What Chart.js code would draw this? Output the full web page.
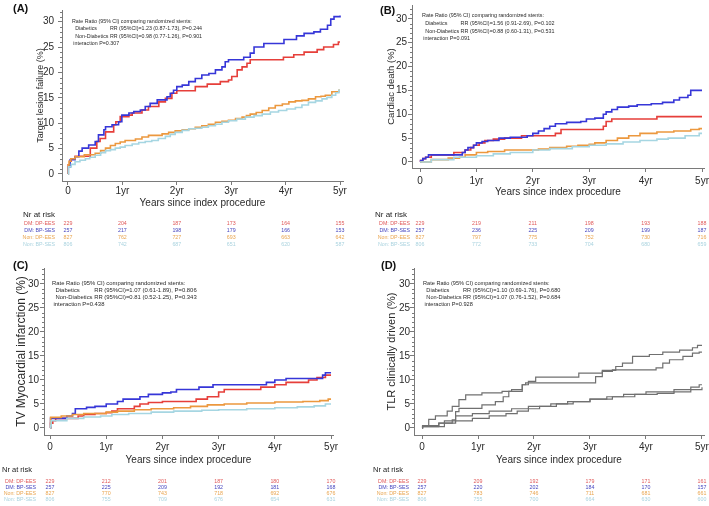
<!DOCTYPE html>
<html><head><meta charset="utf-8">
<script src="https://cdn.jsdelivr.net/npm/chart.js@4.4.1/dist/chart.umd.min.js"></script>
<style>
html,body{margin:0;padding:0;background:#fff;}
#wrap{position:relative;width:709px;height:506px;overflow:hidden;background:#fff;}
#wrap canvas{position:absolute;}
</style></head><body><div id="wrap">
<canvas id="cA" width="355" height="253" style="left:0px;top:0px"></canvas>
<canvas id="cB" width="354" height="253" style="left:355px;top:0px"></canvas>
<canvas id="cC" width="355" height="253" style="left:0px;top:253px"></canvas>
<canvas id="cD" width="354" height="253" style="left:355px;top:253px"></canvas>
</div>
<script>
// ---------- DATA ----------
const years = [0, 1, 2, 3, 4, 5];
const yearLabels = ['0', '1yr', '2yr', '3yr', '4yr', '5yr'];
const yTicks = [0, 5, 10, 15, 20, 25, 30];
const groups = ['DM: DP-EES', 'DM: BP-SES', 'Non: DP-EES', 'Non: BP-SES'];
const xTitle = 'Years since index procedure';
const riskTitle = 'Nr at risk';

// Panel A: Target lesion failure  [years, %]
const A_dmDP = [[0,0],[0.005,1.8],[0.03,2.5],[0.06,3],[0.13,3.5],[0.41,5.1],[0.53,6.4],[0.59,7],[0.69,8.3],[0.84,9.7],[0.88,10.3],[0.96,11.3],[1.12,11.6],[1.18,12],[1.36,12.6],[1.48,13.3],[1.67,14.2],[1.79,14.9],[1.91,15.9],[2.0,16.4],[2.34,17.2],[2.56,17.7],[2.8,18.2],[2.95,18.5],[3.01,19.2],[3.11,20.5],[3.2,21.1],[3.29,21.8],[3.35,22.5],[3.96,23],[4.15,23.5],[4.34,24],[4.58,24.5],[4.7,25],[4.88,25.5],[4.97,26],[5.0,26]];
const A_dmBP = [[0,0],[0.005,1.4],[0.04,2.8],[0.13,3.4],[0.2,4.5],[0.26,5.1],[0.38,5.7],[0.5,6.4],[0.56,7.7],[0.66,8.7],[0.69,9.3],[0.81,9.7],[0.93,10.3],[0.99,11.6],[1.12,12],[1.21,12.3],[1.33,12.6],[1.42,13.3],[1.51,13.9],[1.64,14.6],[1.82,15.2],[1.88,15.9],[1.94,16.5],[2.0,17.2],[2.1,17.5],[2.22,18.2],[2.34,18.8],[2.46,19.5],[2.59,19.8],[2.71,20.5],[2.83,21.1],[2.89,22.1],[2.95,22.5],[3.23,23],[3.35,23.8],[3.42,25],[3.6,25.7],[3.97,26.5],[4.2,27.2],[4.34,27.7],[4.52,28],[4.64,28.5],[4.77,29.3],[4.83,30.5],[4.89,31],[5.0,31.2]];
const A_nonDP = [[0,0],[0.005,1.8],[0.02,2.5],[0.05,3.0],[0.13,3.4],[0.3,3.8],[0.5,4.1],[0.6,4.6],[0.69,5.1],[0.78,5.6],[0.87,6.0],[0.96,6.3],[1.05,6.6],[1.24,6.9],[1.36,7.3],[1.48,7.6],[1.73,7.9],[1.85,8.2],[1.97,8.5],[2.1,8.7],[2.22,8.9],[2.34,9.2],[2.46,9.5],[2.58,9.8],[2.71,10.2],[2.83,10.4],[2.95,10.6],[3.08,10.9],[3.2,11.2],[3.28,11.5],[3.35,11.8],[3.46,12.1],[3.57,12.5],[3.69,13.0],[3.81,13.5],[3.94,13.8],[4.06,14.2],[4.18,14.4],[4.3,14.5],[4.42,14.8],[4.55,15.2],[4.65,15.3],[4.73,15.5],[4.85,16.2],[4.98,16.5],[5.0,16.5]];
const A_nonBP = [[0,0],[0.01,1.4],[0.06,1.9],[0.13,2.4],[0.22,2.7],[0.32,3.0],[0.4,3.3],[0.5,3.7],[0.6,4.2],[0.69,4.6],[0.78,4.8],[0.87,5.1],[0.96,5.3],[1.05,5.6],[1.18,5.9],[1.3,6.2],[1.42,6.4],[1.54,6.6],[1.66,7.0],[1.79,7.4],[1.88,7.8],[1.97,8.2],[2.1,8.6],[2.22,8.9],[2.34,9.0],[2.46,9.2],[2.58,9.5],[2.71,9.8],[2.83,10.2],[2.95,10.5],[3.1,10.8],[3.26,11.2],[3.42,11.5],[3.57,11.8],[3.72,12.2],[3.87,12.5],[4.02,12.8],[4.18,13.1],[4.3,13.6],[4.42,14.1],[4.55,14.4],[4.67,14.8],[4.76,15.1],[4.85,15.5],[4.92,16.0],[4.98,16.5],[5.0,16.5]];

// Panel B: Cardiac death
const B_dmDP = [[0,0],[0.01,0.3],[0.05,0.7],[0.1,1.0],[0.2,1.5],[0.6,2],[0.8,2.5],[0.9,3],[0.95,3.5],[1.05,4],[1.15,4.5],[1.3,4.8],[1.5,5],[1.8,5.5],[2.4,6],[2.5,6.8],[3.25,7.5],[3.3,8.5],[3.4,9],[4.2,9.5],[5.0,9.5]];
const B_dmBP = [[0,0],[0.01,0.3],[0.05,0.7],[0.1,1.0],[0.15,1.5],[0.75,2],[0.8,2.5],[0.85,3],[0.95,3.5],[1.0,4],[1.1,4.3],[1.2,4.5],[1.4,5],[1.6,5.2],[1.9,5.5],[2.0,6],[2.1,6.5],[2.2,7],[2.3,7.5],[2.4,8],[2.6,8.3],[2.85,8.5],[2.95,9],[3.1,9.2],[3.25,10],[3.3,10.5],[3.4,11],[3.5,11.5],[3.7,11.7],[3.85,12],[4.1,12.2],[4.3,12.5],[4.5,13],[4.6,13.5],[4.75,14],[4.8,15],[5.0,15]];
const B_nonDP = [[0,0],[0.2,0.5],[0.5,0.8],[0.7,1],[0.8,1.5],[1.0,2],[1.2,2.2],[1.5,2.5],[2.1,2.7],[2.3,3],[2.6,3.3],[2.8,3.5],[3.0,3.7],[3.1,4],[3.3,4.5],[3.5,5],[3.7,5.5],[3.9,6],[4.2,6.3],[4.5,6.5],[4.8,6.8],[4.95,7],[5.0,7]];
const B_nonBP = [[0,0],[0.2,0.5],[0.6,1],[1.0,1.3],[1.3,1.7],[1.6,2],[2.0,2.5],[2.3,2.8],[2.7,3.2],[3.0,3.5],[3.3,3.8],[3.6,4.2],[3.9,4.5],[4.2,4.8],[4.4,5],[4.7,5.5],[4.95,6],[5.0,6]];

// Panel C: TV Myocardial infarction
const C_dmDP = [[0,0],[0.01,1],[0.05,1.5],[0.1,2],[0.5,2.5],[0.6,2.8],[0.8,3],[1.0,3.2],[1.1,3.5],[1.2,4],[1.5,4.5],[1.6,5],[1.75,5.3],[2.0,5.5],[2.6,6],[2.8,6.5],[3.0,7.5],[3.1,8],[3.75,8.5],[4.0,9],[4.2,9.5],[4.6,10],[4.75,10.5],[4.9,11],[5.0,11]];
const C_dmBP = [[0,0],[0.01,2],[0.3,2.5],[0.4,3],[0.45,4],[0.65,4.3],[0.8,4.5],[1.0,5],[1.2,5.5],[1.3,6],[1.6,6.5],[1.75,7],[2.0,7.3],[2.15,7.5],[2.25,8],[2.65,8.5],[2.9,9],[3.85,9.5],[4.0,10],[4.2,10.3],[4.85,11],[4.9,11.5],[5.0,11.5]];
const C_nonDP = [[0,0],[0.01,2.2],[0.2,2.5],[0.4,2.8],[0.6,3],[1.0,3.3],[1.2,3.5],[1.5,3.8],[1.8,4],[2.2,4.2],[2.5,4.5],[2.8,4.8],[3.1,5],[3.5,5.2],[4.0,5.4],[4.5,5.5],[4.8,5.7],[4.95,6],[5.0,6]];
const C_nonBP = [[0,0],[0.01,0.5],[0.02,1.5],[0.3,2],[0.6,2.3],[0.9,2.5],[1.1,2.8],[1.4,3],[1.8,3.3],[2.2,3.5],[2.7,3.7],[3.0,3.8],[3.5,4],[4.0,4.2],[4.4,4.4],[4.7,4.6],[4.9,5],[5.0,5]];

// Panel D: TLR clinically driven
const D_dmDP = [[0,0],[0.01,0.5],[0.3,1],[0.54,1.7],[0.6,3.4],[0.66,4.1],[1.07,4.8],[1.31,5.5],[1.45,6.5],[1.55,7.6],[1.79,9],[1.85,9.4],[3.1,10.7],[3.22,11.8],[3.4,12.1],[4.18,12.5],[4.3,13.5],[4.42,14.2],[4.66,14.9],[4.83,15.6],[4.95,15.8],[5.0,15.8]];
const D_dmBP = [[0,0],[0.01,0.5],[0.12,1.8],[0.24,2.5],[0.45,3.5],[0.54,4.5],[0.66,5.9],[0.78,6.9],[1.07,7.3],[1.43,7.6],[1.6,8],[1.79,9],[1.9,9.7],[2.03,10.6],[2.8,11.4],[3.22,12],[3.46,12.8],[3.58,13.5],[3.76,14.9],[4.06,15.3],[4.3,15.8],[4.6,16.2],[4.83,16.7],[4.92,17.2],[5.0,17.2]];
const D_nonDP = [[0,0],[0.01,0.3],[0.3,1],[0.6,1.5],[0.9,2],[1.2,2.5],[1.5,3],[1.7,3.5],[1.9,4],[2.1,4.5],[2.4,5],[2.7,5.5],[3.0,6],[3.3,6.5],[3.6,7],[4.0,7.5],[4.5,8],[4.8,8.5],[4.95,9],[5.0,9]];
const D_nonBP = [[0,0],[0.01,0.3],[0.4,1.5],[0.6,2.5],[0.9,3],[1.2,3.5],[1.6,4],[1.9,4.5],[2.3,5],[2.6,5.5],[3.0,6],[3.4,6.5],[3.8,7],[4.2,7.2],[4.5,7.5],[4.8,8],[5.0,8.5]];

// Numbers at risk (at 0..5 years)
const riskA_dmDP = [229, 204, 187, 173, 164, 155];
const riskA_dmBP = [257, 217, 198, 179, 166, 153];
const riskA_nonDP = [827, 762, 727, 693, 663, 642];
const riskA_nonBP = [806, 742, 687, 651, 620, 587];
const riskB_dmDP = [229, 219, 211, 198, 193, 188];
const riskB_dmBP = [257, 236, 225, 209, 199, 187];
const riskB_nonDP = [827, 797, 775, 752, 730, 716];
const riskB_nonBP = [806, 772, 733, 704, 680, 659];
const riskC_dmDP = [229, 212, 201, 187, 180, 170];
const riskC_dmBP = [257, 225, 209, 192, 181, 168];
const riskC_nonDP = [827, 770, 743, 718, 692, 676];
const riskC_nonBP = [806, 755, 709, 676, 654, 631];
const riskD_dmDP = [229, 209, 192, 179, 171, 161];
const riskD_dmBP = [257, 220, 202, 184, 170, 157];
const riskD_nonDP = [827, 783, 746, 711, 681, 661];
const riskD_nonBP = [806, 755, 700, 664, 630, 600];

// Rate-ratio annotation texts
const annA = ['Rate Ratio (95% CI) comparing randomized stents:', 'Diabetics', 'RR (95%CI)=1.23 (0.87-1.73), P=0.244', 'RR (95%CI)=0.98 (0.77-1.26), P=0.901', 'interaction P=0.307'];
const annB = ['Rate Ratio (95% CI) comparing randomized stents:', 'Diabetics', 'RR (95%CI)=1.56 (0.91-2.69), P=0.102', 'RR (95%CI)=0.88 (0.60-1.31), P=0.531', 'interaction P=0.091'];
const annC = ['Rate Ratio (95% CI) comparing randomized stents:', 'Diabetics', 'RR (95%CI)=1.07 (0.61-1.89), P=0.806', 'RR (95%CI)=0.81 (0.52-1.25), P=0.343', 'interaction P=0.438'];
const annD = ['Rate Ratio (95% CI) comparing randomized stents:', 'Diabetics', 'RR (95%CI)=1.10 (0.69-1.76), P=0.680', 'RR (95%CI)=1.07 (0.76-1.52), P=0.684', 'interaction P=0.928'];

// ---------- STYLE ----------
const FONT = '"Liberation Sans", Arial, Helvetica, sans-serif';
Chart.defaults.font.family = FONT;
const axisColor = '#7a7a7a';
const textColor = '#2a2a2a';
const lineColors = ['#e63f3a', '#3636d8', '#ec983e', '#a6d6e2'];
const riskColors = ['#e05a5a', '#4646bf', '#e9a550', '#aad3df'];
const grayLine = '#707070';

const panelPlugin = {
  id: 'panel',
  afterDraw(chart, args, o) {
    const ctx = chart.ctx, x = chart.scales.x, y = chart.scales.y;
    ctx.save();
    // minor ticks on y axis
    ctx.strokeStyle = axisColor; ctx.lineWidth = 1;
    for (let v = 1; v <= Math.floor(y.max); v++) {
      if (v % 5 === 0) continue;
      const py = Math.round(y.getPixelForValue(v)) + 0.5;
      ctx.beginPath(); ctx.moveTo(x.left - 2, py); ctx.lineTo(x.left, py); ctx.stroke();
    }
    // panel letter
    ctx.fillStyle = '#111';
    ctx.font = 'bold 11px ' + FONT;
    ctx.textAlign = 'left'; ctx.textBaseline = 'middle';
    ctx.fillText(o.letter, o.letterX, o.letterY);
    // annotation
    const ann = o.ann;
    ctx.fillStyle = textColor;
    ctx.font = o.annSize + 'px ' + FONT;
    const ax = x.getPixelForValue(0) + o.annDx;
    const ay = y.getPixelForValue(30) + o.annDy;
    const g = o.annGap;
    ctx.fillText(ann[0], ax, ay);
    const ind = ax + o.annSize * 0.6;
    const nd = 'Non-Diabetics ';
    const rrX = ind + ctx.measureText(nd).width;
    ctx.fillText(ann[1], ind, ay + g);
    ctx.fillText(ann[2], rrX, ay + g);
    ctx.fillText(nd, ind, ay + 2 * g);
    ctx.fillText(ann[3], rrX, ay + 2 * g);
    ctx.fillText(ann[4], ax + o.annSize * 0.25, ay + 3 * g);
    // risk table
    ctx.fillStyle = '#222';
    ctx.font = o.nrSize + 'px ' + FONT;
    ctx.fillText(riskTitle, o.nrX, o.nrY);
    ctx.font = o.riskSize + 'px ' + FONT;
    const x0 = x.getPixelForValue(0);
    o.risk.forEach((row, i) => {
      const ry = o.rowY + i * o.rowGap;
      ctx.fillStyle = riskColors[i];
      ctx.textAlign = 'right';
      ctx.fillText(groups[i], x0 - o.labGap, ry);
      ctx.textAlign = 'center';
      row.forEach((n, j) => ctx.fillText(String(n), x.getPixelForValue(years[j]), ry));
    });
    ctx.restore();
  }
};

function makeChart(id, c) {
  const datasets = c.series.map((s, i) => ({
    data: s.map(p => ({ x: p[0], y: p[1] })),
    borderColor: c.colors[i], borderWidth: c.lw, pointRadius: 0, pointHoverRadius: 0,
    stepped: true, fill: false, tension: 0
  })).reverse();
  new Chart(document.getElementById(id), {
    type: 'line',
    data: { datasets },
    options: {
      responsive: false, animation: false, devicePixelRatio: 1,
      events: [],
      layout: { padding: { left: 0, top: c.area.top, right: c.w - c.area.right, bottom: 0 } },
      plugins: { legend: { display: false }, tooltip: { enabled: false }, panel: c.panel },
      scales: {
        x: {
          type: 'linear', min: c.xr[0], max: c.xr[1],
          afterBuildTicks: s => { s.ticks = years.map(v => ({ value: v })); },
          afterFit: s => { s.height = c.h - c.area.bottom; s.paddingLeft = 0; s.paddingRight = 0; },
          ticks: { callback: (v, i) => yearLabels[i], autoSkip: false, maxRotation: 0, color: textColor,
                   font: { size: c.xTickSize }, padding: c.xTickPad },
          grid: { drawOnChartArea: false, drawTicks: true, tickLength: 4, color: axisColor },
          border: { display: true, color: axisColor, width: 1 },
          title: { display: true, text: xTitle, color: textColor, font: { size: 10 }, padding: { top: 0, bottom: c.xTitlePad } }
        },
        y: {
          type: 'linear', min: c.yr[0], max: c.yr[1],
          afterBuildTicks: s => { s.ticks = yTicks.map(v => ({ value: v })); },
          afterFit: s => { s.width = c.area.left; s.paddingTop = 0; s.paddingBottom = 0; },
          ticks: { callback: v => String(v), color: textColor, font: { size: c.yTickSize }, padding: c.yTickPad },
          grid: { drawOnChartArea: false, drawTicks: true, tickLength: 4, color: axisColor },
          border: { display: true, color: axisColor, width: 1 },
          title: { display: true, text: c.yTitle, color: textColor, font: { size: c.yTitleSize }, padding: { top: c.yTitlePad, bottom: 0 } }
        }
      }
    },
    plugins: [panelPlugin]
  });
}

makeChart('cA', {
  w: 355, h: 253, area: { left: 62, right: 343, top: 10, bottom: 181 },
  xr: [-0.11, 5.055], yr: [-1.38, 32.3],
  series: [A_dmDP, A_dmBP, A_nonDP, A_nonBP], colors: lineColors, lw: 1.6,
  yTitle: 'Target lesion failure (%)', yTitleSize: 9, yTitlePad: 35,
  xTickSize: 10, xTickPad: 0, yTickSize: 10, yTickPad: 4, xTitlePad: 44,
  panel: { letter: '(A)', letterX: 13, letterY: 9, ann: annA, annSize: 5.3, annDx: 4, annDy: 0, annGap: 7.3,
           nrX: 23, nrY: 215, nrSize: 8, riskSize: 5.3, rowY: 224, rowGap: 7, labGap: 13,
           risk: [riskA_dmDP, riskA_dmBP, riskA_nonDP, riskA_nonBP] }
});
makeChart('cB', {
  w: 354, h: 253, area: { left: 57, right: 349, top: 5, bottom: 168 },
  xr: [-0.142, 5.035], yr: [-1.26, 32.9],
  series: [B_dmDP, B_dmBP, B_nonDP, B_nonBP], colors: lineColors, lw: 1.6,
  yTitle: 'Cardiac death (%)', yTitleSize: 9.5, yTitlePad: 31,
  xTickSize: 10, xTickPad: 3, yTickSize: 10, yTickPad: 1, xTitlePad: 55,
  panel: { letter: '(B)', letterX: 25, letterY: 11, ann: annB, annSize: 5.4, annDx: 2, annDy: -3, annGap: 7.6,
           nrX: 20, nrY: 215, nrSize: 8, riskSize: 5.3, rowY: 224, rowGap: 6.7, labGap: 10,
           risk: [riskB_dmDP, riskB_dmBP, riskB_nonDP, riskB_nonBP] }
});
makeChart('cC', {
  w: 355, h: 253, area: { left: 44, right: 333, top: 15, bottom: 182 },
  xr: [-0.107, 5.035], yr: [-1.46, 33.3],
  series: [C_dmDP, C_dmBP, C_nonDP, C_nonBP], colors: lineColors, lw: 1.6,
  yTitle: 'TV Myocardial infarction (%)', yTitleSize: 12, yTitlePad: 14,
  xTickSize: 10, xTickPad: 2, yTickSize: 10, yTickPad: 1, xTitlePad: 40,
  panel: { letter: '(C)', letterX: 13, letterY: 13, ann: annC, annSize: 5.9, annDx: 2, annDy: 0, annGap: 6.7,
           nrX: 2, nrY: 217, nrSize: 7.5, riskSize: 5.3, rowY: 229, rowGap: 6, labGap: 14,
           risk: [riskC_dmDP, riskC_dmBP, riskC_nonDP, riskC_nonBP] }
});
makeChart('cD', {
  w: 354, h: 253, area: { left: 59, right: 349, top: 15, bottom: 182 },
  xr: [-0.143, 5.036], yr: [-1.46, 33.3],
  series: [D_dmDP, D_dmBP, D_nonDP, D_nonBP], colors: [grayLine, grayLine, grayLine, grayLine], lw: 1.2,
  yTitle: 'TLR clinically driven (%)', yTitleSize: 11, yTitlePad: 30,
  xTickSize: 10, xTickPad: 2, yTickSize: 10, yTickPad: 0, xTitlePad: 40,
  panel: { letter: '(D)', letterX: 26, letterY: 13, ann: annD, annSize: 5.6, annDx: 1, annDy: 0, annGap: 6.7,
           nrX: 18, nrY: 217, nrSize: 7.5, riskSize: 5.3, rowY: 229, rowGap: 5.7, labGap: 13,
           risk: [riskD_dmDP, riskD_dmBP, riskD_nonDP, riskD_nonBP] }
});
</script>
</body></html>
